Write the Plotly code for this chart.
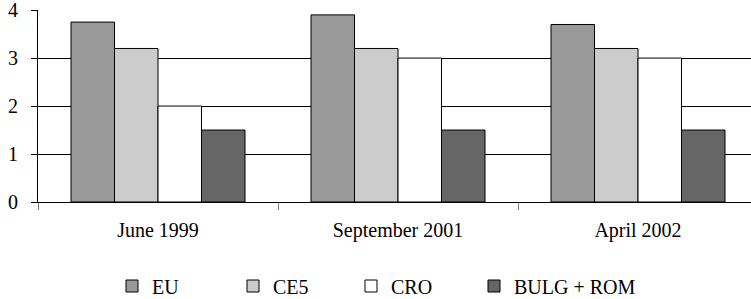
import plotly.graph_objects as go

categories = ["June 1999", "September 2001", "April 2002"]
series_names = ["EU", "CE5", "CRO", "BULG + ROM"]
eu = [3.75, 3.9, 3.7]
ce5 = [3.2, 3.2, 3.2]
cro = [2.0, 3.0, 3.0]
bulg_rom = [1.5, 1.5, 1.5]
y_ticks = [0, 1, 2, 3, 4]

values = [eu, ce5, cro, bulg_rom]
colors = ["#999999", "#cccccc", "#ffffff", "#666666"]
legend_ids = ["legend", "legend2", "legend3", "legend4"]
legend_left_px = [112, 233, 351, 474]

W, H = 751, 299
font = dict(family="'Liberation Serif', 'Times New Roman', serif", size=20, color="#000000")

fig = go.Figure()
for name, vals, col, lid in zip(series_names, values, colors, legend_ids):
    fig.add_trace(go.Bar(
        x=categories, y=vals, name=name, legend=lid,
        marker=dict(color=col, line=dict(color="#000000", width=1)),
    ))

legends = {}
for lid, left in zip(legend_ids, legend_left_px):
    legends[lid] = dict(
        orientation="h", xref="container", yref="container",
        x=left / W, xanchor="left", y=1 - 286 / H, yanchor="middle",
        font=font, bgcolor="rgba(0,0,0,0)",
    )

fig.update_layout(
    width=W, height=H,
    margin=dict(l=38, r=0, t=10, b=97, autoexpand=False),
    paper_bgcolor="white", plot_bgcolor="white",
    barmode="group", bargap=0.275, bargroupgap=0,
    font=font,
    showlegend=True,
    xaxis=dict(
        range=[-0.5, -0.5 + (W - 38) / 240], automargin=False,
        showline=True, linecolor="#000000", linewidth=1,
        ticks="outside", tickson="boundaries", ticklen=7, tickcolor="#808080",
        showgrid=False, zeroline=False,
        ticklabelstandoff=10,
    ),
    yaxis=dict(
        range=[0, 4.002], tickvals=y_ticks, automargin=False,
        showline=True, linecolor="#000000", linewidth=1,
        ticks="outside", ticklen=6, tickcolor="#000000",
        showgrid=True, gridcolor="#000000", gridwidth=1,
        zeroline=False,
        ticklabelstandoff=9, ticklabeloverflow="allow",
    ),
    **legends,
)

fig.write_html(
    "out.html",
    config={"displayModeBar": False},
    post_script="document.body.style.margin='0';document.body.style.padding='0';",
)
